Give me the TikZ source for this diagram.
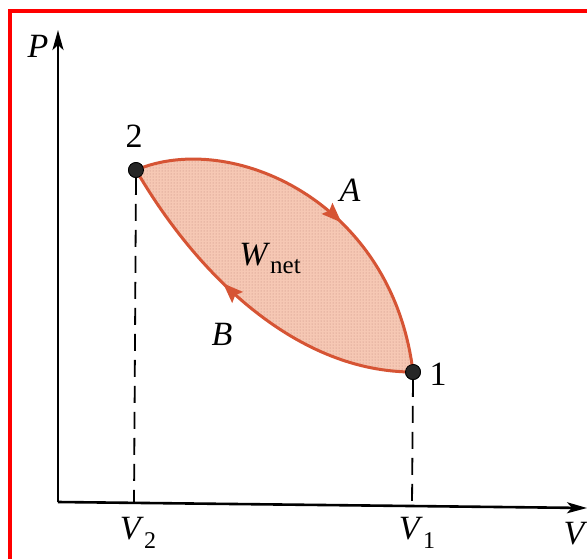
\documentclass[tikz,border=0pt]{standalone}
\usepackage{fontspec}
\setmainfont{Liberation Serif}
\usetikzlibrary{arrows.meta,decorations.markings,patterns}
\definecolor{peach}{RGB}{246,200,180}
\definecolor{dotc}{RGB}{190,135,120}
\definecolor{edge}{RGB}{214,84,52}
\tikzset{
  axis/.style={line width=2.6pt, -{Stealth[length=20pt,width=11pt,inset=5pt]}},
  guide/.style={line width=1.8pt, dash pattern=on 17pt off 9pt},
  pt/.style={circle, fill=black!85, draw=black, line width=0.8pt, minimum size=15pt, inner sep=0pt},
  lbl/.style={font=\fontsize{34}{38}\selectfont, inner sep=0pt},
  ilbl/.style={font=\fontsize{34}{38}\selectfont\itshape, inner sep=0pt},
  pathline/.style={draw=edge, line width=3pt},
  midarrow/.style={postaction={decorate}, decoration={markings, mark=at position #1 with {\arrow[edge]{Stealth[length=20pt,width=15pt,inset=3pt]}}}},
  frame/.style={draw=red, line width=4pt}
}
\begin{document}
\begin{tikzpicture}[x=1pt,y=-1pt]
\useasboundingbox (0,0) rectangle (587,558);
\fill[white] (0,0) rectangle (587,558);
\draw[frame] (10,560) -- (10,11) -- (590,11);
% axes
\coordinate (O) at (58,502);
\coordinate (Ptop) at (58,30);
\coordinate (Vend) at (587,508);
\draw[axis] (O) -- (Ptop);
\draw[axis] (O) -- (Vend);
\node[ilbl] (Plab) at (38,46) {P};
\node[ilbl] (Vlab) at (574,534) {V};
% states
\node[pt] (p2) at (136,170) {};
\node[pt] (p1) at (413,372) {};
\node[lbl] (l2) at (134,136) {2};
\node[lbl] (l1) at (438,374) {1};
% cycle area
\fill[peach] (p2.center) .. controls (230,130) and (392,200) .. (p1.center)
   .. controls (300,372) and (200,280) .. (p2.center) -- cycle;
\fill[pattern=dots, pattern color=dotc] (p2.center) .. controls (230,130) and (392,200) .. (p1.center)
   .. controls (300,372) and (200,280) .. (p2.center) -- cycle;
\draw[pathline, midarrow=0.57] (p2.center) .. controls (230,130) and (392,200) .. (p1.center);
\draw[pathline, midarrow=0.6] (p1.center) .. controls (300,372) and (200,280) .. (p2.center);
\node[pt] at (p2) {};
\node[pt] at (p1) {};
% dashed guides
\coordinate (v2) at (134,503);
\coordinate (v1) at (412,506);
\draw[guide] (p2.south) -- (v2);
\draw[guide] (p1.south) -- (v1);
% labels
\node[ilbl] (Alab) at (350,190) {A};
\node[ilbl] (Blab) at (222,334) {B};
\node[lbl] (W) at (270,258) {\textit{W}\raisebox{-8pt}{\fontsize{25}{28}\selectfont net}};
\node[lbl] (V2) at (138,533) {\textit{V}\raisebox{-9pt}{\fontsize{24}{27}\selectfont 2}};
\node[lbl] (V1) at (417,533) {\textit{V}\raisebox{-9pt}{\fontsize{24}{27}\selectfont 1}};
\end{tikzpicture}
\end{document}
